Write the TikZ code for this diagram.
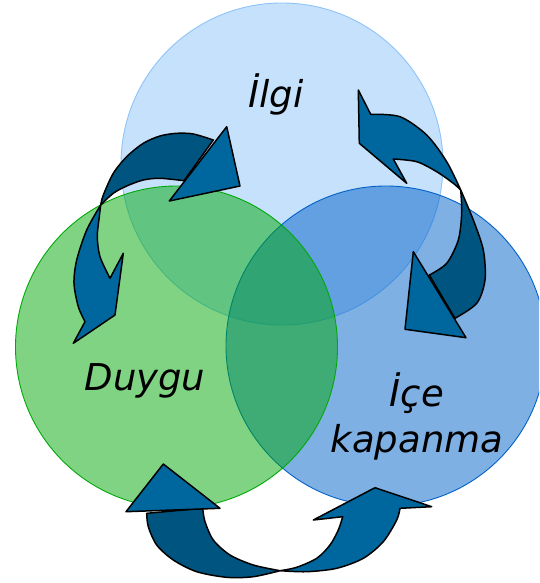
\documentclass[tikz,border=0pt]{standalone}
\usepackage{fontspec}
\newfontfamily\lblfont{DejaVu Sans}
\definecolor{topc}{RGB}{141,195,249}
\definecolor{bluec}{RGB}{0,97,200}
\definecolor{greenc}{RGB}{0,168,8}
\definecolor{arrmid}{RGB}{0,103,158}
\definecolor{arrdark}{RGB}{0,85,128}
\tikzset{
  circ/.style={line width=0.9pt, fill opacity=0.5},
  arrowpart/.style={draw=black, line width=1.5pt, line join=round},
  midpart/.style={arrowpart, fill=arrmid},
  darkpart/.style={arrowpart, fill=arrdark},
  lbl/.style={font=\lblfont\itshape\fontsize{37}{46}\selectfont, inner sep=0pt, anchor=base}
}
\begin{document}
\begin{tikzpicture}[x=1pt,y=-1pt]
\useasboundingbox (0,0) rectangle (539,583);
\clip (0,0) rectangle (539,583);
% circles
\filldraw[circ, draw=topc, fill=topc] (282,164) circle[radius=161pt];
\filldraw[circ, draw=bluec, fill=bluec] (386,346) circle[radius=160pt];
\filldraw[circ, draw=greenc, fill=greenc] (176.5,347) circle[radius=161pt];

% labels
\node[lbl] (ilgi) at (276,107) {İlgi};
\node[lbl] (duygu) at (145,390) {Duygu};
\node[lbl] (ice1) at (417,406) {İçe};
\node[lbl] (ice2) at (417,452) {kapanma};

% left arrow
\draw[darkpart] (213.3,140) -- plot[smooth] coordinates {(213.3,140)(193.3,134)(176.7,133.3)(160,136)(143.3,143.3)(126.7,156.7)(113.3,173.3)(103.3,195)(100.7,205)}
  -- plot[smooth] coordinates {(100.7,205)(113.3,193.3)(126.7,186)(143.3,180)(160,178.3)(184,180.7)} -- cycle;
\draw[midpart] (226.7,126.7) -- (240,186) -- (169.3,201) -- cycle;
\draw[midpart] (100.7,205) -- plot[smooth] coordinates {(100.7,205)(99.3,216.7)(97.3,236.7)(100,256.7)(110,278.3)}
  -- (123.3,253.3) -- (115,315) -- (73.3,343.3) -- (85,321.7)
  -- plot[smooth] coordinates {(85,321.7)(78.3,306.7)(74,283.3)(76.7,260)(86.7,230)(100.7,205)} -- cycle;

% right arrow
\draw[midpart] (370.7,114.3) -- plot[smooth] coordinates {(370.7,114.3)(400,116.7)(426.7,135)(446.7,161.7)(460.7,190)}
  -- plot[smooth] coordinates {(460.7,190)(453.3,183.3)(436.7,171.7)(416.7,161.7)(393.3,159)}
  -- (406.7,183.3) -- (359.3,143.3) -- (358.3,90) -- cycle;
\draw[darkpart] (460.7,190) -- plot[smooth] coordinates {(460.7,190)(473.3,220)(483.3,250)(485,280)(476.7,303.3)(455,318.3)}
  -- plot[smooth] coordinates {(429.3,275)(446.7,263.3)(458.3,240)(461.7,213.3)(460.7,190)} -- cycle;
\draw[midpart] (413.3,251.7) -- (405,329.3) -- (466,337.7) -- cycle;

% bottom arrow
\draw[darkpart] (146.7,513.3) -- plot[smooth] coordinates {(146.7,513.3)(148.3,526.7)(156.7,545)(173.3,560)(196.7,571.7)(226.7,577.3)(253.3,576.7)(280,570.7)}
  -- plot[smooth] coordinates {(280,570.7)(253.3,565)(230,555)(213.3,540)(205,521.7)(202.7,508.3)} -- cycle;
\draw[midpart] (163.3,464) -- (126,511.7) -- (220,508.3) -- cycle;
\draw[midpart] (280,570.7) -- plot[smooth] coordinates {(280,570.7)(306.7,571.7)(336.7,568.3)(363.3,558.3)(383.3,541.7)(396.7,520)(400,508.3)}
  -- (431.7,506.7) -- (375,487.7) -- (313.3,520) -- (342.7,516.7)
  -- plot[smooth] coordinates {(342.7,516.7)(338.3,530)(330,545)(316.7,558.3)(296.7,567.3)(280,570.7)} -- cycle;
\end{tikzpicture}
\end{document}
